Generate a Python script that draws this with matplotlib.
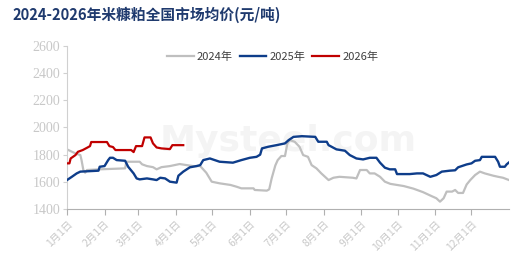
import matplotlib
matplotlib.use("Agg")
import matplotlib.pyplot as plt

plt.rcParams['font.family'] = ['Noto Sans CJK SC', 'DejaVu Sans']

# day of year (0 = Jan 1) and price (yuan/ton)
days_2024 = [0, 7, 11, 12, 13.5, 15, 16.5, 27, 48, 49,
             60, 62, 66, 71, 74, 78, 85, 93, 104, 110,
             115, 119.5, 126, 135, 140, 144, 154, 155, 165, 167,
             169, 172, 174, 177, 180, 182, 184, 188, 192, 195,
             199, 202, 206, 210, 216, 220, 225, 236, 239, 242,
             247.5, 250, 254, 258.5, 262.5, 267, 278, 286, 294, 301,
             305, 308, 311, 313.5, 318, 320.5, 323, 327, 330, 333,
             337, 341, 345, 352, 356, 360, 365]
vals_2024 = [1839, 1809, 1797, 1760, 1687, 1667, 1687, 1692, 1699, 1748,
             1748, 1729, 1716, 1708, 1692, 1708, 1716, 1731, 1716, 1716,
             1667, 1601, 1589, 1577, 1564, 1552, 1552, 1540, 1535, 1545,
             1625, 1720, 1760, 1790, 1790, 1883, 1907, 1895, 1858, 1797,
             1784, 1723, 1699, 1662, 1613, 1630, 1637, 1630, 1625, 1687,
             1687, 1662, 1662, 1637, 1601, 1585, 1569, 1550, 1524, 1495,
             1479, 1454, 1479, 1528, 1528, 1540, 1518, 1518, 1580, 1613,
             1650, 1675, 1662, 1645, 1637, 1630, 1613]

days_2025 = [0, 4, 8, 11, 26, 27, 31, 34, 35.5, 38,
             41, 48, 50.5, 55, 57.5, 60, 66, 71, 74, 77,
             81, 85, 90.5, 92, 96, 101.5, 107, 110, 112.5, 118,
             126, 137, 144, 151, 156.5, 159.5, 161, 166, 173, 180,
             183, 187, 194, 205, 207.5, 214.5, 216, 222.5, 229.5, 233.5,
             239, 244.5, 250, 255.5, 258.5, 262.5, 266.5, 271, 272.5, 283,
             289, 294, 300, 305, 309.5, 316, 320.5, 323, 330, 334,
             337, 341, 342.5, 353.5, 356, 357.5, 361.5, 363, 365]
vals_2025 = [1613, 1637, 1662, 1675, 1682, 1711, 1716, 1760, 1777, 1777,
             1760, 1755, 1711, 1662, 1625, 1618, 1625, 1618, 1613, 1630,
             1625, 1601, 1594, 1645, 1675, 1707, 1716, 1723, 1760, 1772,
             1748, 1741, 1760, 1777, 1784, 1800, 1846, 1858, 1870, 1883,
             1907, 1931, 1936, 1931, 1895, 1895, 1870, 1839, 1829, 1797,
             1772, 1765, 1777, 1777, 1741, 1704, 1692, 1692, 1657, 1657,
             1662, 1662, 1637, 1650, 1675, 1682, 1685, 1707, 1728, 1736,
             1755, 1760, 1784, 1784, 1748, 1711, 1711, 1728, 1743]

days_2026 = [0, 2, 3, 7, 9, 13, 17, 19, 20, 33,
             35, 38, 40, 53, 55, 57, 62, 64, 69, 71,
             74, 78, 85, 87, 96]
vals_2026 = [1736, 1736, 1772, 1797, 1821, 1834, 1853, 1863, 1893, 1893,
             1863, 1856, 1834, 1834, 1819, 1863, 1863, 1927, 1927, 1883,
             1853, 1846, 1841, 1870, 1870]

month_starts = [0, 31, 59, 90, 120, 151, 181, 212, 243, 273, 304, 334]
month_labels = [f"{m}月1日" for m in range(1, 13)]
y_ticks = [1400, 1600, 1800, 2000, 2200, 2400, 2600]

fig = plt.figure(figsize=(5.21, 2.76), dpi=100)
ax = fig.add_axes([0.1286, 0.2428, 0.8484, 0.5905])

# faint watermark
ax.text(0.5, 0.42, "Mysteel.com", transform=ax.transAxes, ha="center", va="center",
        fontsize=26, color="#f4f4f4", family=["DejaVu Sans"], fontweight="bold", zorder=0)

ax.plot(days_2024, vals_2024, color="#bfbfbf", lw=1.6, label="2024年", zorder=2)
ax.plot(days_2025, vals_2025, color="#0e3d8a", lw=1.7, label="2025年", zorder=3)
ax.plot(days_2026, vals_2026, color="#c00000", lw=1.6, label="2026年", zorder=4)

ax.set_xlim(0, 365)
ax.set_ylim(1400, 2600)
ax.set_yticks(y_ticks)
ax.set_yticklabels([str(v) for v in y_ticks], family=["Liberation Serif"], fontsize=10, color="#c8c8c8")
ax.set_xticks(month_starts)
ax.set_xticklabels(month_labels, rotation=45, ha="right", rotation_mode="anchor",
                   fontsize=7.5, color="#c8c8c8")

for side in ["top", "right"]:
    ax.spines[side].set_visible(False)
ax.spines["left"].set_color("#d0d0d0")
ax.spines["bottom"].set_color("#b0b0b0")
ax.tick_params(axis="y", length=3, color="#d0d0d0", pad=2)
ax.tick_params(axis="x", length=4, color="#b0b0b0", pad=3)

ax.legend(loc="upper center", bbox_to_anchor=(0.465, 1.025), ncol=3, frameon=False,
          fontsize=8, labelcolor="#404040", handlelength=2.4, columnspacing=0.6, handletextpad=0.3)

fig.text(0.024, 0.948, "2024-2026年米糠粕全国市场均价(元/吨)", fontsize=10.6, fontweight="bold",
         color="#1f3a6e", ha="left", va="center")

fig.savefig("out.png", dpi=100)
